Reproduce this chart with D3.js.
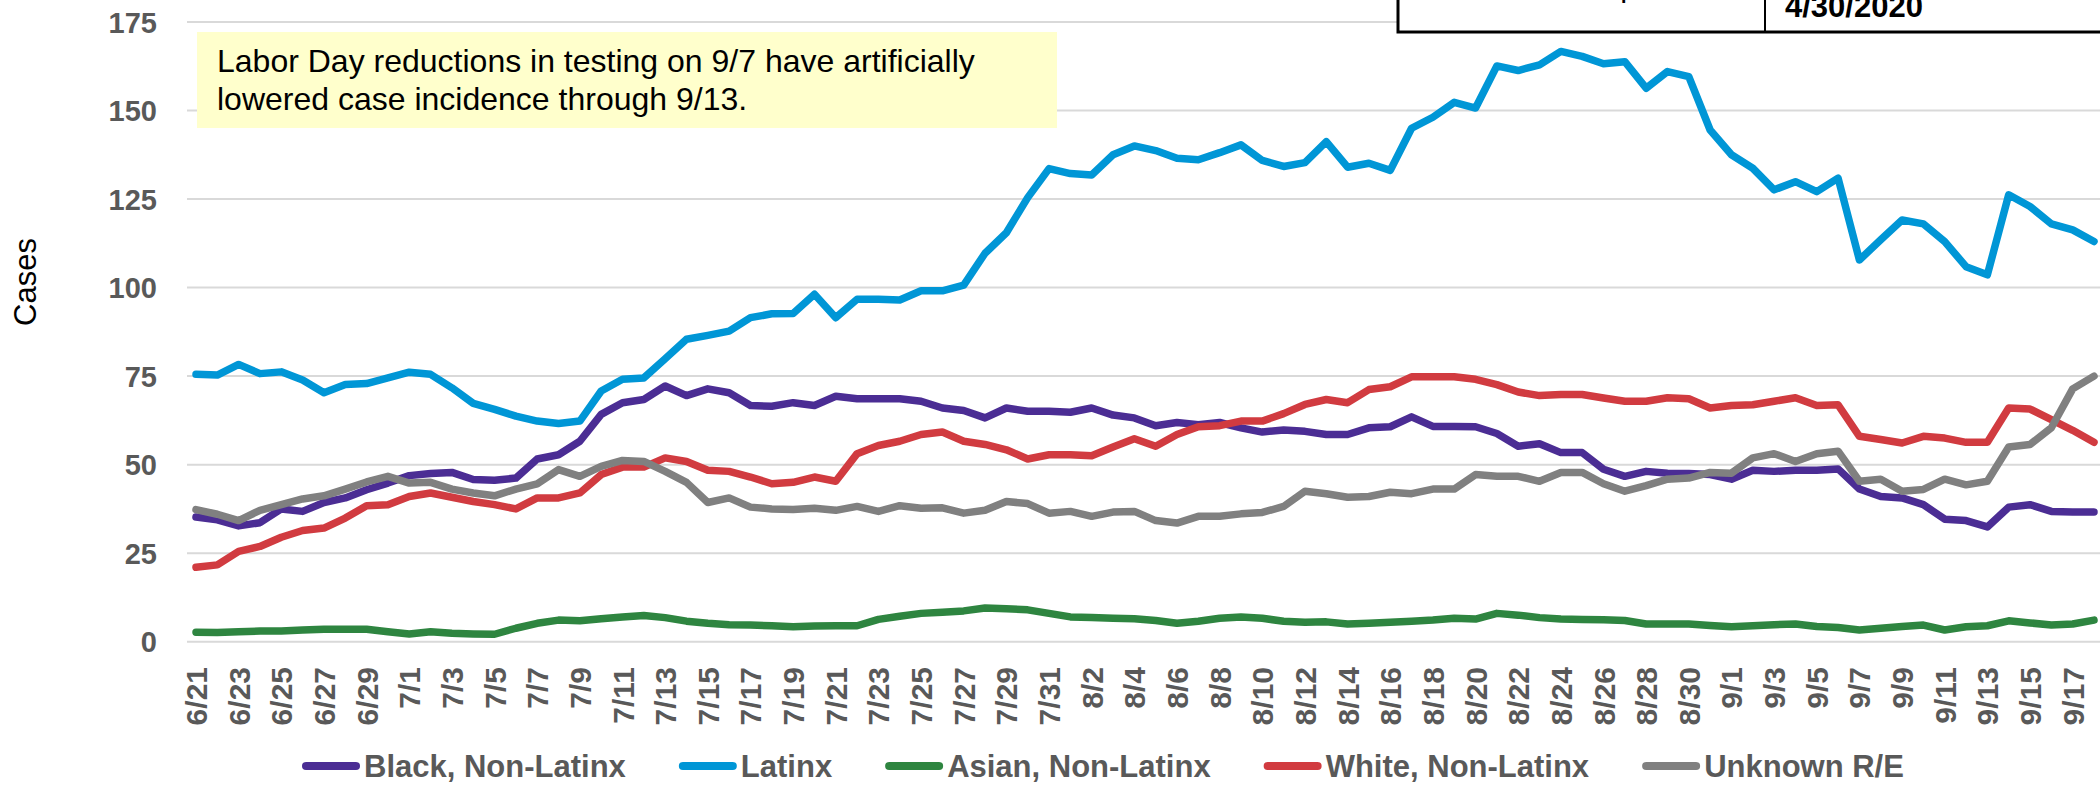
<!DOCTYPE html>
<html>
<head>
<meta charset="utf-8">
<script src="https://cdn.jsdelivr.net/npm/d3@7"></script>
<style>
  html, body { margin: 0; padding: 0; background: #fff; }
  svg { display: block; }
  text { font-family: "Liberation Sans", Arial, sans-serif; }
</style>
</head>
<body>
<svg id="chart" width="2100" height="785"></svg>
<script>
const dates = ["6/21","6/22","6/23","6/24","6/25","6/26","6/27","6/28","6/29","6/30",
  "7/1","7/2","7/3","7/4","7/5","7/6","7/7","7/8","7/9","7/10","7/11","7/12","7/13","7/14","7/15","7/16","7/17","7/18","7/19","7/20","7/21","7/22","7/23","7/24","7/25","7/26","7/27","7/28","7/29","7/30","7/31",
  "8/1","8/2","8/3","8/4","8/5","8/6","8/7","8/8","8/9","8/10","8/11","8/12","8/13","8/14","8/15","8/16","8/17","8/18","8/19","8/20","8/21","8/22","8/23","8/24","8/25","8/26","8/27","8/28","8/29","8/30","8/31",
  "9/1","9/2","9/3","9/4","9/5","9/6","9/7","9/8","9/9","9/10","9/11","9/12","9/13","9/14","9/15","9/16","9/17","9/18"];

const black = [35.2,34.4,32.7,33.6,37.5,36.8,39.3,40.6,42.9,44.8,46.9,47.5,47.8,45.8,45.6,46.2,51.6,52.8,56.6,64.2,67.5,68.4,72.2,
  69.5,71.4,70.3,66.7,66.5,67.5,66.7,69.3,68.6,68.6,68.6,67.9,66.0,65.3,63.2,66.0,65.1,65.1,64.8,66.0,
  64.0,63.2,61.0,61.9,61.3,61.9,60.4,59.2,59.8,59.4,58.5,58.5,60.4,60.7,63.5,60.8,60.8,60.7,58.8,55.2,55.9,
  53.4,53.4,48.7,46.7,48.1,47.6,47.5,47.2,45.9,48.4,48.1,48.4,48.4,48.8,43.1,41.0,40.6,38.7,34.6,34.2,32.4,38.0,38.7,36.8,36.6,36.6];

const latinx = [75.5,75.3,78.3,75.7,76.2,73.9,70.3,72.6,72.9,74.5,76.1,75.5,71.7,67.3,65.6,63.7,62.3,61.6,62.3,70.8,74.1,74.5,79.9,
  85.4,86.5,87.7,91.5,92.6,92.7,98.1,91.5,96.7,96.7,96.5,99.1,99.1,100.7,
  109.7,115.5,125.4,133.6,132.2,131.8,137.5,140.0,138.7,136.5,136.1,138.1,140.3,135.9,134.2,135.3,141.2,134.0,135.1,133.1,145.0,148.1,152.3,150.7,
  162.6,161.3,162.9,166.7,165.3,163.2,163.8,156.3,161.0,159.6,144.5,137.5,133.7,127.6,129.9,127.1,130.9,107.8,113.5,119.1,118.0,113.0,105.9,103.6,126.2,122.9,118.0,116.3,113.0];

const asian = [2.7,2.6,2.8,3.0,3.0,3.3,3.5,3.5,3.5,2.8,2.2,2.8,2.4,2.2,2.1,3.8,5.2,6.1,5.9,
  6.5,7.0,7.4,6.8,5.8,5.2,4.8,4.7,4.5,4.2,4.4,4.5,
  4.5,6.3,7.2,8.0,8.3,8.7,9.5,9.3,9.0,8.0,7.0,6.8,6.6,6.5,6.0,5.2,5.8,6.6,7.0,6.6,5.8,5.5,5.6,5.0,5.2,5.5,5.8,6.1,6.6,6.4,8.0,7.5,6.8,6.4,
  6.3,6.2,6.0,5.0,5.0,5.0,4.6,4.2,4.5,4.8,5.0,4.3,4.0,3.3,3.8,4.3,4.7,3.3,4.2,4.5,5.9,5.3,4.7,5.0,6.1];

const white = [21.0,21.7,25.5,26.9,29.5,31.4,32.1,34.9,38.4,38.7,41.0,42.0,40.8,39.6,38.7,37.5,40.6,40.6,42.0,47.2,49.3,49.3,51.9,
  50.9,48.4,48.1,46.5,44.6,45.0,46.5,45.3,53.1,55.4,56.6,58.5,59.2,56.6,55.7,54.2,51.6,52.8,52.8,52.5,
  55.0,57.3,55.2,58.5,60.7,61.0,62.3,62.3,64.4,67.0,68.4,67.5,71.2,72.0,74.8,74.8,74.8,74.1,72.6,70.5,69.5,69.8,69.8,
  68.8,67.9,67.9,68.9,68.6,66.0,66.7,66.9,67.9,68.9,66.7,66.9,58.0,57.1,56.1,58.0,57.5,56.3,56.3,66.0,65.7,62.7,59.7,56.3];

const unknown = [37.3,36.0,34.2,37.1,38.7,40.3,41.2,43.1,45.1,46.7,44.8,45.0,43.1,42.0,41.2,43.1,44.6,48.6,46.7,49.5,51.2,50.9,48.1,
  45.0,39.3,40.6,38.0,37.5,37.3,37.7,37.1,38.2,36.8,38.4,37.7,37.8,36.3,37.1,39.6,39.0,36.3,36.8,35.4,
  36.6,36.8,34.2,33.5,35.4,35.4,36.1,36.5,38.2,42.5,41.8,40.8,41.0,42.2,41.8,43.1,43.1,47.2,46.7,46.7,45.3,47.8,47.8,
  44.6,42.5,44.1,45.9,46.2,47.8,47.6,51.9,53.1,50.9,53.1,53.8,45.3,45.9,42.5,43.0,45.9,44.3,45.3,55.0,55.7,60.4,71.4,75.0];

const seriesNames = ["Black, Non-Latinx","Latinx","Asian, Non-Latinx","White, Non-Latinx","Unknown R/E"];
const seriesValues = [black, latinx, asian, white, unknown];
const seriesColors = ["#4B2D94","#0096D6","#2E8540","#D13B40","#808080"];
const yTicks = [0,25,50,75,100,125,150,175];
const xTickLabels = dates.filter((d,i) => i % 2 === 0);
const annotationLines = ["Labor Day reductions in testing on 9/7 have artificially","lowered case incidence through 9/13."];
const boxDate = "4/30/2020";

const svg = d3.select("#chart");
const x = d3.scalePoint().domain(dates).range([196, 2094]);
const y = d3.scaleLinear().domain([0,175]).range([641.7, 22]);
const gridLeft = 187, gridRight = 2100;

// gridlines
svg.append("g").selectAll("line").data(yTicks).join("line")
  .attr("x1", gridLeft).attr("x2", gridRight)
  .attr("y1", d => y(d)).attr("y2", d => y(d))
  .attr("stroke", "#D9D9D9").attr("stroke-width", 2);

// y axis labels
const yAxis = d3.axisLeft(y).tickValues(yTicks).tickSize(0).tickPadding(0);
const yg = svg.append("g").attr("transform", "translate(157,0)").call(yAxis);
yg.select(".domain").remove();
yg.selectAll("text").attr("font-family", "'Liberation Sans', Arial, sans-serif")
  .attr("font-size", 29).attr("font-weight", "bold").attr("fill", "#595959")
  .attr("dy", "0.35em").attr("x", 0);

// x axis labels
const xAxis = d3.axisBottom(x).tickValues(xTickLabels).tickSize(0).tickPadding(0);
const xg = svg.append("g").attr("transform", "translate(0,667)").call(xAxis);
xg.select(".domain").remove();
xg.selectAll("text").attr("font-family", "'Liberation Sans', Arial, sans-serif")
  .attr("font-size", 30).attr("font-weight", "bold").attr("fill", "#595959")
  .attr("transform", "rotate(-90)").attr("text-anchor", "end")
  .attr("x", 0).attr("y", 0).attr("dy", "0.35em");

// y title
svg.append("text").attr("transform", "translate(25,282) rotate(-90)")
  .attr("text-anchor", "middle").attr("dy", "0.35em")
  .attr("font-size", 31).attr("fill", "#000").text("Cases");

// lines
const line = d3.line().x((d,i) => x(dates[i])).y(d => y(d));
svg.append("g").selectAll("path").data(seriesValues).join("path")
  .attr("d", d => line(d))
  .attr("fill", "none")
  .attr("stroke", (d,i) => seriesColors[i])
  .attr("stroke-width", 7.5)
  .attr("stroke-linejoin", "round")
  .attr("stroke-linecap", "round");

// annotation box
svg.append("rect").attr("x", 197).attr("y", 32).attr("width", 860).attr("height", 96)
  .attr("fill", "#FFFFCC");
svg.append("g").selectAll("text").data(annotationLines).join("text")
  .attr("x", 217).attr("y", (d,i) => 72 + i*38)
  .attr("font-size", 32).attr("fill", "#000").text(d => d);

// top-right table box (cut off by the top edge, as in the source)
const tb = svg.append("g");
tb.append("rect").attr("x", 1398).attr("y", -30).attr("width", 760).attr("height", 62)
  .attr("fill", "#fff").attr("stroke", "#000").attr("stroke-width", 3);
tb.append("line").attr("x1", 1765).attr("x2", 1765).attr("y1", -30).attr("y2", 32)
  .attr("stroke", "#000").attr("stroke-width", 2);
tb.append("text").attr("x", 1585).attr("y", -4).attr("text-anchor", "middle")
  .attr("font-size", 31).attr("fill", "#000").text("Data as of, Report Date");
tb.append("text").attr("x", 1785).attr("y", 16.5)
  .attr("font-size", 31).attr("font-weight", "bold").attr("fill", "#000").text(boxDate);

// legend
const lg = svg.append("g");
let lx = 302;
seriesNames.forEach((name, i) => {
  lg.append("line").attr("x1", lx + 4).attr("x2", lx + 54).attr("y1", 766).attr("y2", 766)
    .attr("stroke", seriesColors[i]).attr("stroke-width", 8).attr("stroke-linecap", "round");
  const t = lg.append("text").attr("x", lx + 62).attr("y", 777)
    .attr("font-size", 31).attr("font-weight", "bold").attr("fill", "#595959").text(name);
  const w = t.node().getComputedTextLength();
  lx = lx + 62 + w + 53;
});
</script>
</body>
</html>
